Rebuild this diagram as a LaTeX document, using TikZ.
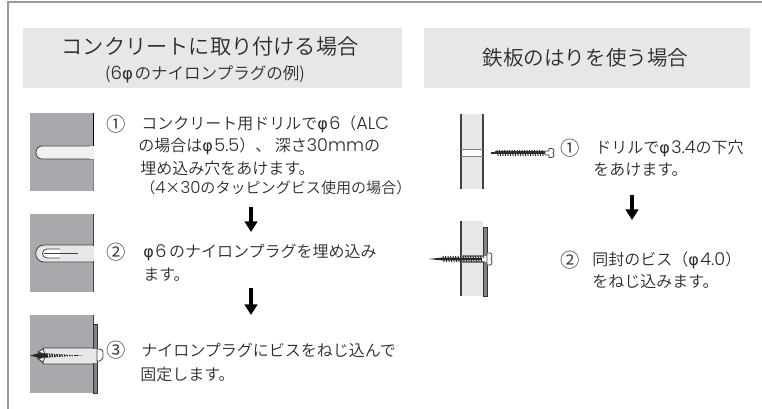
\documentclass[tikz,border=0pt]{standalone}
\usepackage{fontspec}
\setmainfont{Noto Sans CJK JP DemiLight}
\newfontfamily\lat[Scale=1.1]{Poppins Light}
\newfontfamily\grk{DejaVu Sans}
\newcommand{\ph}{{\grk φ}\kern1.2pt}
\newcommand{\la}[1]{{\lat #1}}
\usetikzlibrary{arrows.meta}
\definecolor{txt}{HTML}{2B2B2B}
\definecolor{hdr}{HTML}{E6E7E8}
\definecolor{wall}{HTML}{A7A9AC}
\definecolor{plate}{HTML}{808285}
\definecolor{frameg}{HTML}{9A9A9A}
\definecolor{plug}{HTML}{E6E7E8}
\tikzset{
  line/.style={anchor=west,inner sep=0pt,text=txt,font=\fontsize{12pt}{12pt}\selectfont},
  num/.style={anchor=center,inner sep=0pt,text=txt,font=\fontsize{14.5pt}{14pt}\selectfont},
  h1/.style={inner sep=0pt,text=txt,font=\fontsize{15.9pt}{16pt}\selectfont},
  h2/.style={inner sep=0pt,text=txt,font=\fontsize{12.4pt}{12pt}\selectfont},
  hdrbox/.style={fill=hdr,draw=none},
  wallbox/.style={fill=wall,draw=none},
  beam/.style={fill=hdr,draw=none},
  plt/.style={fill=plate,draw=black!80,line width=0.5pt},
  downarrow/.style={draw=black,line width=2.3pt,-{Triangle[length=8pt,width=9.5pt]}},
  edge/.style={draw=black!75,line width=0.6pt},
  thr/.style={draw=black!85,line width=0.8pt}
}
\begin{document}
\begin{tikzpicture}[x=0.75pt,y=-0.75pt]
\useasboundingbox (0,0) rectangle (762,409);
% frame
\draw[frameg,line width=0.9pt] (8,409) -- (8,2) -- (762,2);
% headers
\fill[hdrbox] (23,28) rectangle (402,88);
\fill[hdrbox] (424,28) rectangle (750,88);
\node[h1] (t1) at (210,47) {コンクリートに取り付ける場合};
\node[h2] (t1s) at (205,74) {(\la{6}\ph のナイロンプラグの例)};
\node[h1,font=\fontsize{15.4pt}{16pt}\selectfont] (t2) at (585.5,58) {鉄板のはりを使う場合};

% left step 1
\fill[wallbox] (30,113) rectangle (93,191);
\draw[edge,fill=plug!60!white] (93,146) -- (42,146) .. controls (34,146) and (34,159) .. (42,159) -- (93,159);
\fill[plug!60!white] (90,146.4) rectangle (93.5,158.6);
\draw[edge,black] (93,113) -- (93,146);
\draw[edge,gray] (93,159) -- (93,191);

% left step 2
\fill[wallbox] (30,214) rectangle (93,292);
\draw[edge,fill=plug] (93,245) -- (44,245) .. controls (33,245) and (33,262) .. (44,262) -- (93,262);
\draw[edge,fill=white] (62,249) -- (47,249) .. controls (41,249) and (41,258) .. (47,258) -- (62,258);
\fill[plug] (60,248) rectangle (64,259);
\draw[edge,line width=0.7pt] (44,253.5) -- (78,253.5);
\draw[edge] (93,214) -- (93,292);
\fill[plug] (92,246) rectangle (94,261);

% left step 3
\fill[wallbox] (30,315) rectangle (93,393);
\draw[edge,fill=plug] (93,348) -- (44,348) -- (36,356) -- (44,364) -- (93,364);
\draw[edge] (93,315) -- (93,324);
\draw[plt] (93,324) rectangle (97,393);
\fill[plug] (92.5,349) rectangle (97,363);
\draw[edge,fill=white] (97,349) .. controls (101,348) and (104,351) .. (103,354) .. controls (104,358) and (101,362) .. (97,361) -- cycle;
\fill[black!85] (30,355.5) -- (40,353) -- (82,355.5) -- (40,358) -- cycle;
\foreach \x in {48,50.5,...,73}{\draw[white,line width=0.5pt] (\x,353.5) -- (\x+1,357.5);}
\draw[edge,fill=white] (38,352) -- (43,349) -- (45,354) -- cycle;
\draw[edge,fill=white] (38,359) -- (43,362) -- (45,357) -- cycle;

% arrows
\coordinate (a1s) at (251,207); \coordinate (a1e) at (251,232);
\coordinate (a2s) at (251,288); \coordinate (a2e) at (251,315);
\coordinate (a3s) at (632,195); \coordinate (a3e) at (632,220);
\draw[downarrow] (a1s) -- (a1e);
\draw[downarrow] (a2s) -- (a2e);
\draw[downarrow] (a3s) -- (a3e);

% right step 1
\fill[beam] (461,114) rectangle (483,189);
\fill[white] (461,150) rectangle (483,156);
\draw[edge,line width=0.8pt] (461,114) -- (461,189);
\draw[edge,line width=0.8pt] (483,114) -- (483,189);
\draw[edge,gray,line width=0.9pt] (461,149.5) -- (483,149.5) (461,156.5) -- (483,156.5);
\draw[line width=0.9pt,black!85] (491,153) -- (496,153);
\fill[black!80] (495,151.5) rectangle (545,154.5);
\foreach \x in {497,499.5,...,544}{\draw[thr,line width=0.7pt] (\x,150) -- (\x+1.2,156);}
\draw[edge,fill=white] (545,151) -- (549,151) -- (549,148.5) .. controls (554,148) and (555,150) .. (553,153) .. controls (555,156) and (554,158) .. (549,157.5) -- (549,155) -- (545,155) -- cycle;

% right step 2
\fill[beam] (461,221) rectangle (483,296);
\draw[edge,line width=0.8pt] (461,221) -- (461,296);
\draw[plt] (483,227) rectangle (487,296);
\fill[white] (461,256) rectangle (487,262);
\draw[edge,gray,line width=0.8pt] (461,256) -- (483,256) (461,262) -- (483,262);
\fill[black!85] (428,259) -- (443,257.5) -- (486,258) -- (486,260) -- (443,260.5) -- cycle;
\foreach \x in {443,445.5,...,483}{\draw[thr,line width=0.7pt] (\x,256) -- (\x+1.2,262);}
\fill[white] (482,257.5) rectangle (488,260.5);
\draw[edge,fill=white] (487,253) .. controls (492,252) and (493,255) .. (491,259) .. controls (493,263) and (492,266) .. (487,265) -- cycle;

% text
\node[num] (n1) at (116.5,124) {①};
\node[line] (l1a) at (141,124) {コンクリート用ドリルで\ph\la{6}（\la{ALC}};
\node[line] (l1b) at (138,146) {の場合は\ph\la{5.5}）、 深さ\la{30mm}の};
\node[line] (l1c) at (140,168) {埋め込み穴をあけます。};
\node[line,font=\fontsize{11.3pt}{12pt}\selectfont] (l1d) at (140,188) {（\la{4}×\la{30}のタッピングビス使用の場合）};
\node[num] (n2) at (116.5,252) {②};
\node[line] (l2a) at (143,252) {\ph\la{6}\kern2pt のナイロンプラグを埋め込み};
\node[line] (l2b) at (143,275) {ます。};
\node[num] (n3) at (116.5,350) {③};
\node[line] (l3a) at (141,350) {ナイロンプラグにビスをねじ込んで};
\node[line] (l3b) at (140,374) {固定します。};
\node[num] (r1) at (570,148) {①};
\node[line] (r1a) at (595,148) {ドリルで\ph\la{3.4}の下穴};
\node[line] (r1b) at (593,170) {をあけます。};
\node[num] (r2) at (570,260) {②};
\node[line] (r2a) at (592,260) {同封のビス（\ph\la{4.0}）};
\node[line] (r2b) at (592,282) {をねじ込みます。};
\end{tikzpicture}
\end{document}
